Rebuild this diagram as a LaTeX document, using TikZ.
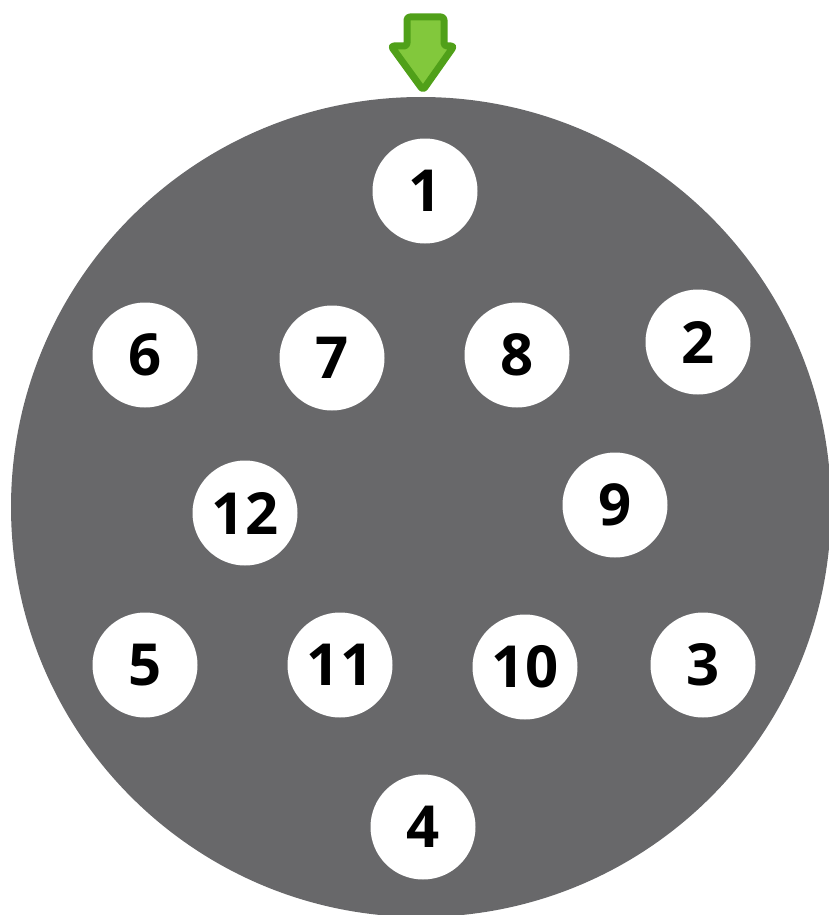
\documentclass[tikz,border=0pt]{standalone}
\usepackage{fontspec}
\setmainfont{Open Sans}
\definecolor{plate}{RGB}{104,104,106}
\definecolor{arrowfill}{RGB}{130,200,60}
\definecolor{arrowline}{RGB}{80,160,25}
\tikzset{
  pin/.style={circle, fill=white, minimum size=105pt, inner sep=0pt,
    font=\fontsize{58}{58}\selectfont\bfseries, text=black},
}
\begin{document}
\begin{tikzpicture}[x=1pt,y=-1pt]
\useasboundingbox (0,0) rectangle (829,915);
\begin{scope}
\clip (0,0) rectangle (829,915);
\fill[plate] (421,507) circle (410);
\end{scope}
\node[pin] (p1) at (425,191) {1};
\node[pin] (p6) at (145,355) {6};
\node[pin] (p7) at (332,358) {7};
\node[pin] (p8) at (517,355) {8};
\node[pin] (p2) at (698,342) {2};
\node[pin] (p12) at (245,513) {12};
\node[pin] (p9) at (615,505) {9};
\node[pin] (p5) at (145,665) {5};
\node[pin] (p11) at (340,665) {11};
\node[pin] (p10) at (525,667) {10};
\node[pin] (p3) at (703,665) {3};
\node[pin] (p4) at (423,827) {4};
\draw[line width=7pt, arrowline, fill=arrowfill, rounded corners=3pt, line join=round]
  (407,17) -- (444,17) -- (444,46) -- (454,46) -- (423,90) -- (391,46) -- (407,46) -- cycle;
\end{tikzpicture}
\end{document}
